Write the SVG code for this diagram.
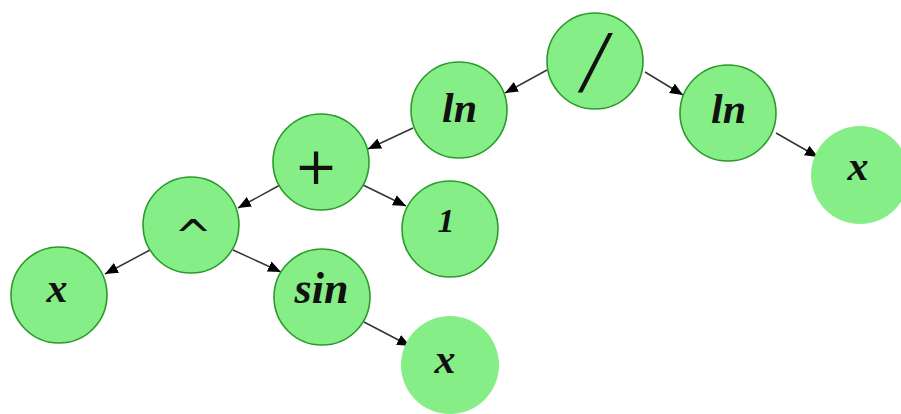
<svg xmlns="http://www.w3.org/2000/svg" width="901" height="414" viewBox="0 0 901 414">
<defs>
<marker id="ah" markerWidth="14" markerHeight="12" refX="13" refY="6" orient="auto" markerUnits="userSpaceOnUse">
<path d="M0,0.5 L13,6 L0,11.5 z" fill="#000"/>
</marker>
<style>
.n{fill:#86ee86;stroke:#2a9a2a;stroke-width:1.6}
.leaf{fill:#86ee86;stroke:none}
.t{font-family:"Liberation Serif","DejaVu Serif",serif;font-style:italic;font-weight:bold;fill:#111;text-anchor:middle}
.op{font-family:"DejaVu Sans",sans-serif;fill:#111;text-anchor:middle}
.e{stroke:#333;stroke-width:1.5;fill:none;marker-end:url(#ah)}
</style>
</defs>
<g id="connectors">
<line class="e" x1="547" y1="70" x2="505" y2="93"/>
<line class="e" x1="645" y1="72" x2="683" y2="95"/>
<line class="e" x1="776" y1="133" x2="818" y2="157"/>
<line class="e" x1="413" y1="128" x2="368" y2="149"/>
<line class="e" x1="363" y1="185" x2="406" y2="206"/>
<line class="e" x1="280" y1="185" x2="238" y2="208"/>
<line class="e" x1="150" y1="250" x2="105" y2="274"/>
<line class="e" x1="233" y1="250" x2="281" y2="272"/>
<line class="e" x1="364" y1="322" x2="410" y2="346"/>
</g>
<g id="node-div"><circle class="n" cx="595" cy="61" r="48"/><text x="594" y="91" font-size="88" font-family="'Liberation Serif',serif" font-style="italic" fill="#111" text-anchor="middle">/</text></g>
<g id="node-ln1"><circle class="n" cx="459" cy="110" r="48"/><text class="t" x="459.5" y="122" font-size="42">ln</text></g>
<g id="node-ln2"><circle class="n" cx="728" cy="113" r="48"/><text class="t" x="728.5" y="123" font-size="42">ln</text></g>
<g id="node-x1"><circle class="leaf" cx="860" cy="175" r="49"/><text class="t" x="858" y="180" font-size="42">x</text></g>
<g id="node-plus"><circle class="n" cx="321" cy="162" r="48"/><text class="op" x="316" y="184" font-size="52">+</text></g>
<g id="node-one"><circle class="n" cx="450" cy="229" r="48"/><text class="t" x="446" y="232" font-size="34">1</text></g>
<g id="node-pow"><circle class="n" cx="191" cy="225" r="48"/><text class="op" x="193" y="251" font-size="45">^</text></g>
<g id="node-x2"><circle class="n" cx="59" cy="295" r="48"/><text class="t" x="57" y="302" font-size="42">x</text></g>
<g id="node-sin"><circle class="n" cx="322" cy="297" r="48"/><text class="t" x="321.5" y="303" font-size="44">sin</text></g>
<g id="node-x3"><circle class="leaf" cx="450" cy="365" r="49"/><text class="t" x="445" y="373" font-size="42">x</text></g>
</svg>
